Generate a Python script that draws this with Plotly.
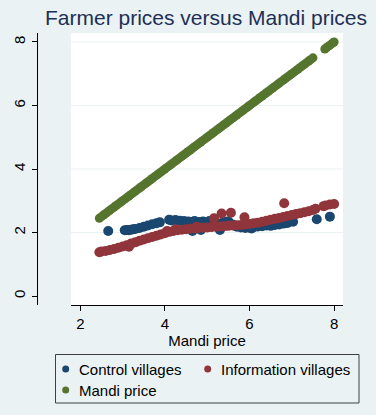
import plotly.graph_objects as go

# ---- data ----
control_x = [2.66, 3.05, 3.1, 3.15, 3.2, 3.25, 3.3, 3.4, 3.5, 3.6, 3.7, 3.8, 3.88,
             4.1, 4.15, 4.25, 4.35, 4.45, 4.55, 4.6, 4.65, 4.7, 4.8, 4.85, 4.9, 5.0,
             5.05, 5.1, 5.2, 5.3, 5.35, 5.45, 5.5, 5.6, 5.7, 5.8, 5.9, 6.0, 6.05, 6.1,
             6.2, 6.3, 6.4, 6.5, 6.6, 6.7, 6.8, 6.9, 7.03, 7.59, 7.9]
control_y = [2.05, 2.07, 2.08, 2.07, 2.09, 2.10, 2.11, 2.14, 2.18, 2.22, 2.26, 2.29, 2.32,
             2.40, 2.38, 2.39, 2.37, 2.36, 2.35, 2.33, 2.05, 2.36, 2.33, 2.08, 2.35, 2.32,
             2.36, 2.30, 2.33, 2.08, 2.30, 2.34, 2.35, 2.25, 2.18, 2.16, 2.14, 2.15, 2.13, 2.17,
             2.19, 2.20, 2.22, 2.21, 2.24, 2.25, 2.28, 2.30, 2.34, 2.42, 2.50]

info_x = [2.45, 2.5, 2.6, 2.7, 2.8, 2.9, 3.0, 3.1, 3.15, 3.2, 3.3, 3.4, 3.5, 3.6, 3.7,
          3.8, 3.9, 4.0, 4.05, 4.1, 4.2, 4.25, 4.3, 4.4, 4.5, 4.6, 4.7, 4.75, 4.8, 4.9,
          5.0, 5.1, 5.16, 5.2, 5.3, 5.34, 5.4, 5.5, 5.56, 5.6, 5.7, 5.8, 5.88, 5.9, 6.0,
          6.1, 6.2, 6.3, 6.4, 6.5, 6.6, 6.7, 6.8, 6.82, 6.9, 7.0, 7.1, 7.2, 7.3, 7.4,
          7.5, 7.56, 7.75, 7.8, 7.9, 8.0]
info_y = [1.38, 1.40, 1.42, 1.45, 1.48, 1.52, 1.56, 1.60, 1.55, 1.65, 1.69, 1.74, 1.78, 1.82, 1.86,
          1.90, 1.94, 1.98, 2.05, 2.02, 2.05, 2.10, 2.07, 2.09, 2.10, 2.12, 2.13, 2.18, 2.14, 2.15,
          2.16, 2.17, 2.45, 2.18, 2.19, 2.60, 2.20, 2.21, 2.62, 2.22, 2.23, 2.24, 2.48, 2.25, 2.27,
          2.29, 2.31, 2.34, 2.37, 2.40, 2.43, 2.46, 2.49, 2.92, 2.52, 2.55, 2.58, 2.61, 2.64, 2.67,
          2.71, 2.75, 2.83, 2.85, 2.88, 2.90]

mandi = [2.45, 2.5, 2.55, 2.6, 2.65, 2.7, 2.75, 2.8, 2.85, 2.9, 2.95, 3.0, 3.05, 3.1, 3.15,
         3.2, 3.25, 3.3, 3.35, 3.4, 3.45, 3.5, 3.55, 3.6, 3.65, 3.7, 3.75, 3.8, 3.85, 3.9,
         3.95, 4.0, 4.05, 4.1, 4.15, 4.2, 4.25, 4.3, 4.35, 4.4, 4.45, 4.5, 4.55, 4.6, 4.65,
         4.7, 4.75, 4.8, 4.85, 4.9, 4.95, 5.0, 5.05, 5.1, 5.15, 5.2, 5.25, 5.3, 5.35, 5.4,
         5.45, 5.5, 5.55, 5.6, 5.65, 5.7, 5.75, 5.8, 5.85, 5.9, 5.95, 6.0, 6.05, 6.1, 6.15,
         6.2, 6.25, 6.3, 6.35, 6.4, 6.45, 6.5, 6.55, 6.6, 6.65, 6.7, 6.75, 6.8, 6.85, 6.9,
         6.95, 7.0, 7.05, 7.1, 7.15, 7.2, 7.25, 7.3, 7.35, 7.4, 7.45, 7.5, 7.78, 7.82, 7.86,
         7.9, 7.94, 7.98, 8.0]

series_names = ["Control villages", "Information villages", "Mandi price"]
y_ticks = [0, 2, 4, 6, 8]
x_ticks = [2, 4, 6, 8]
grid_vals = [2, 4, 6, 8]

BG = "#EAF2F3"
NAVY = "#1A476F"
MAROON = "#90353B"
GREEN = "#55752F"
COLORS = [NAVY, MAROON, GREEN]
MARKER_SIZES = [10, 10, 9]
FONT = "Liberation Sans, Arial, sans-serif"
W, H = 376, 415
PLOT_TOP, PLOT_BOTTOM = 33, 305
PLOT_H = PLOT_BOTTOM - PLOT_TOP


def px_x(px):
    return px / W


def px_y(py):
    return (PLOT_BOTTOM - py) / PLOT_H


fig = go.Figure()
for name, xs, ys, col, ms in zip(series_names, [control_x, info_x, mandi],
                                 [control_y, info_y, mandi], COLORS, MARKER_SIZES):
    fig.add_trace(go.Scatter(x=xs, y=ys, mode="markers", name=name, showlegend=False,
                             marker=dict(color=col, size=ms, line=dict(width=0))))

for g in grid_vals:
    fig.add_shape(type="line", xref="x domain", yref="y", x0=0, x1=1, y0=g, y1=g,
                  line=dict(color=BG, width=1), layer="below")

# ---- legend box (Stata style: 2 columns) ----
fig.add_shape(type="rect", xref="paper", yref="paper",
              x0=px_x(55.5), x1=px_x(359), y0=px_y(354.5), y1=px_y(403),
              line=dict(color="#404040", width=1), fillcolor="rgba(0,0,0,0)")
legend_slots = [(65.7, 369), (207.7, 369), (65.7, 390)]
for name, col, (mx, my) in zip(series_names, COLORS, legend_slots):
    r = 3.5
    fig.add_shape(type="circle", xref="paper", yref="paper",
                  x0=px_x(mx - r), x1=px_x(mx + r), y0=px_y(my + r), y1=px_y(my - r),
                  fillcolor=col, line=dict(width=0))
    fig.add_annotation(text=name, xref="paper", yref="paper", x=px_x(mx + 11.5),
                       y=px_y(my), xanchor="left", yanchor="middle", showarrow=False,
                       font=dict(family=FONT, size=15, color="black"))

fig.update_layout(
    width=W, height=H,
    paper_bgcolor=BG, plot_bgcolor="white",
    margin=dict(l=0, r=0, t=PLOT_TOP, b=H - PLOT_BOTTOM, autoexpand=False),
    font=dict(family=FONT, size=15, color="black"),
    title=dict(text="Farmer prices versus Mandi prices", x=206 / W, xanchor="center",
               y=1 - 18 / H, yanchor="middle",
               font=dict(family=FONT, size=21, color="#1E2F55")),
    xaxis=dict(domain=[71 / W, 343 / W], range=[1.78, 8.21], tickvals=x_ticks,
               showgrid=False, zeroline=False, showline=True, linecolor="black", linewidth=1,
               ticks="outside", ticklen=5, tickcolor="black",
               tickfont=dict(size=15), title=dict(text="Mandi price", standoff=4,
                                                   font=dict(size=15))),
    yaxis=dict(range=[-0.283, 8.283], tickvals=y_ticks, anchor="free", position=37 / W,
               showgrid=False, zeroline=False, showline=True, linecolor="black", linewidth=1,
               ticks="outside", ticklen=5, tickcolor="black", tickangle=-90,
               tickfont=dict(size=15), ticklabelstandoff=1),
    showlegend=False,
)

fig.write_html("out.html", config={"displayModeBar": False},
               post_script="document.body.style.margin='0';document.body.style.overflow='hidden';")
